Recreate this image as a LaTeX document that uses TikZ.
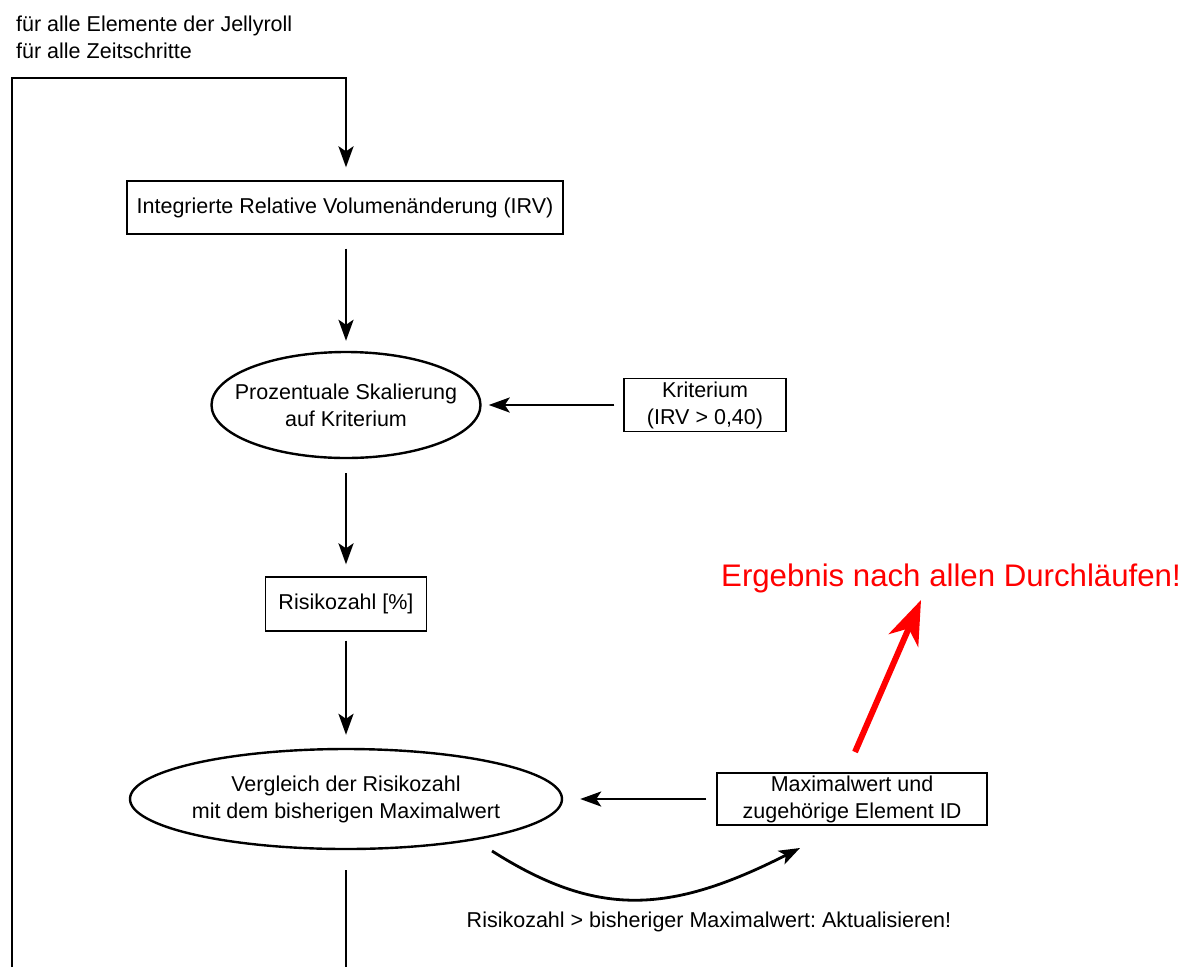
\documentclass[tikz,border=0pt]{standalone}
\usepackage{fontspec}
\setmainfont{Liberation Sans}
\usetikzlibrary{arrows.meta,shapes.geometric,calc}
\frenchspacing
\begin{document}
\begin{tikzpicture}[x=1pt,y=-1pt,
  every node/.style={font=\fontsize{21.5}{27}\selectfont, align=center, inner sep=0pt},
  box/.style={draw, line width=1.3pt},
  oval/.style={draw, ellipse, line width=2.4pt, inner xsep=-40pt, inner ysep=-10pt},
  thick line/.style={line width=2.8pt},
  flow/.style={thick line, -{Stealth[length=21pt,width=15pt,inset=5pt]}},
  redflow/.style={line width=6pt, red, -{Stealth[length=44pt,width=32pt,inset=13pt]}},
]
\useasboundingbox (0,0) rectangle (1186,967);

% loop header
\node[anchor=base west] (h1) at (16,31) {für alle Elemente der Jellyroll};
\node[anchor=base west] (h2) at (16,58) {für alle Zeitschritte};

% process steps
\node[box, minimum width=436pt, minimum height=53pt] (irv) at (345,207.5)
  {Integrierte Relative Volumenänderung (IRV)};
\node[oval, minimum width=269pt, minimum height=106pt] (e1) at (346,405)
  {Prozentuale Skalierung\\auf Kriterium};
\node[box, minimum width=162pt, minimum height=53pt] (krit) at (705,405)
  {Kriterium\\(IRV > 0,40)};
\node[box, minimum width=161pt, minimum height=54pt] (risk) at (346,604)
  {Risikozahl [\%]};
\node[oval, minimum width=432pt, minimum height=100pt] (e2) at (346,799)
  {Vergleich der Risikozahl\\mit dem bisherigen Maximalwert};
\node[box, minimum width=270pt, minimum height=52pt] (mx) at (852,799)
  {Maximalwert und\\zugehörige Element ID};

% annotations
\node[anchor=base] (upd) at (709,927) {Risikozahl > bisheriger Maximalwert: Aktualisieren!};
\node[anchor=base, red, font=\fontsize{31.2}{37}\selectfont] (res) at (951,586)
  {Ergebnis nach allen Durchläufen!};

% loop line
\coordinate (lb) at (12,967);
\coordinate (lt) at (346,78);
\coordinate (bot) at (346,967);
\draw[flow, shorten >=13pt] (lb) |- (lt) -- (lt |- irv.north);
\draw[thick line, shorten <=20pt] (e2.south) -- (bot);

% main flow
\draw[flow, shorten <=14pt, shorten >=10pt] (irv.south -| e1.north) -- (e1.north);
\draw[flow, shorten <=14pt, shorten >=12pt] (e1.south) -- (risk.north);
\draw[flow, shorten <=9pt, shorten >=13pt] (risk.south) -- (e2.north);
\draw[flow, shorten <=9pt, shorten >=7pt] (krit.west) -- (e1.east);
\draw[flow, shorten <=10pt, shorten >=17pt] (mx.west) -- (e2.east);

% update path
\coordinate (cs) at (492,851);
\coordinate (ce) at (800,848);
\draw[flow] (cs) .. controls (596,917) and (668,915) .. (ce);

% result arrow
\coordinate (rs) at (855,752);
\coordinate (re) at (921,600);
\draw[redflow] (rs) -- (re);
\end{tikzpicture}
\end{document}
